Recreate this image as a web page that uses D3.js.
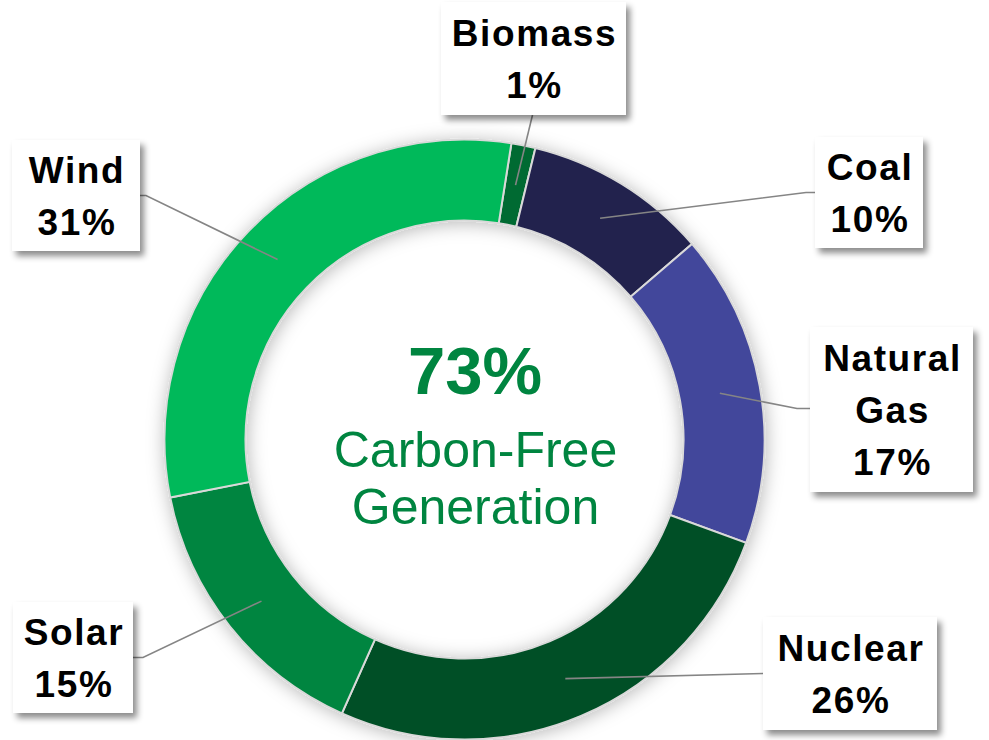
<!DOCTYPE html>
<html>
<head>
<meta charset="utf-8">
<script src="https://cdn.jsdelivr.net/npm/d3@7"></script>
<style>
  html, body { margin: 0; padding: 0; background: #fff; }
  svg { display: block; }
</style>
</head>
<body>
<svg id="chart" width="989" height="740"></svg>
<script>
// ---- data ----
const categories = ["Biomass", "Coal", "Natural Gas", "Nuclear", "Solar", "Wind"];
const values = [1.3, 9.9, 16.9, 26.1, 15.2, 30.6];
const percentLabels = ["1%", "10%", "17%", "26%", "15%", "31%"];
const nameLines = [["Biomass"], ["Coal"], ["Natural", "Gas"], ["Nuclear"], ["Solar"], ["Wind"]];
const colors = ["#006b30", "#22234e", "#43479b", "#015027", "#008540", "#00b95a"];
const centerValue = "73%";
const centerLines = ["Carbon-Free", "Generation"];

// ---- layout (label boxes: x, y, w, h, leader anchor side) ----
const boxes = [
  { x: 441, y: 2,   w: 185, h: 113, side: "bottom" },
  { x: 815, y: 137, w: 108, h: 111, side: "left", elbow: 9 },
  { x: 810, y: 327, w: 163, h: 165, side: "left", elbow: 13 },
  { x: 763, y: 617, w: 174, h: 113, side: "left", elbow: 0 },
  { x: 13,  y: 602, w: 120, h: 111, side: "right", elbow: 10 },
  { x: 12,  y: 140, w: 128, h: 111, side: "right", elbow: 6 }
];

const W = 989, H = 740;
const cx = 464.5, cy = 439.5, R = 300, r = 219;
const startDeg = 9;

const svg = d3.select("#chart");
const defs = svg.append("defs");

const ringShadow = defs.append("filter").attr("id", "ringShadow")
  .attr("x", "-20%").attr("y", "-20%").attr("width", "140%").attr("height", "140%");
ringShadow.append("feDropShadow").attr("dx", 1).attr("dy", 2)
  .attr("stdDeviation", 9).attr("flood-color", "#000").attr("flood-opacity", 0.28);

const boxShadow = defs.append("filter").attr("id", "boxShadow")
  .attr("x", "-20%").attr("y", "-20%").attr("width", "140%").attr("height", "140%");
boxShadow.append("feDropShadow").attr("dx", 4).attr("dy", 5)
  .attr("stdDeviation", 3).attr("flood-color", "#000").attr("flood-opacity", 0.45);

const data = categories.map((c, i) => ({ name: c, value: values[i], pct: percentLabels[i], lines: nameLines[i], color: colors[i], box: boxes[i] }));

const pie = d3.pie().value(d => d.value).sort(null)
  .startAngle(startDeg * Math.PI / 180)
  .endAngle(startDeg * Math.PI / 180 + 2 * Math.PI);
const arcs = pie(data);

const arc = d3.arc().innerRadius(r).outerRadius(R);
const midArc = d3.arc().innerRadius((r + R) / 2).outerRadius((r + R) / 2);

const g = svg.append("g").attr("transform", `translate(${cx},${cy})`);

g.append("g").attr("filter", "url(#ringShadow)")
  .selectAll("path").data(arcs).join("path")
  .attr("d", arc)
  .attr("fill", d => d.data.color)
  .attr("stroke", "#d9d9d9")
  .attr("stroke-width", 2);

// leader lines
const leaders = svg.append("g");
arcs.forEach(a => {
  const b = a.data.box;
  const c = midArc.centroid(a);
  const end = [cx + c[0], cy + c[1]];
  let pts;
  if (b.side === "bottom") {
    pts = [[b.x + b.w / 2 - 1, b.y + b.h], end];
  } else if (b.side === "left") {
    const y = b.y + b.h / 2 + (b.h > 150 ? -1 : 0);
    pts = [[b.x, y], [b.x - b.elbow, y], end];
  } else {
    const y = b.y + b.h / 2;
    pts = [[b.x + b.w, y], [b.x + b.w + b.elbow, y], end];
  }
  leaders.append("path")
    .attr("d", d3.line()(pts))
    .attr("fill", "none")
    .attr("stroke", "#858585")
    .attr("stroke-width", 1.6);
});

// label boxes
const lbl = svg.append("g").selectAll("g").data(arcs).join("g");
lbl.append("rect")
  .attr("x", d => d.data.box.x).attr("y", d => d.data.box.y)
  .attr("width", d => d.data.box.w).attr("height", d => d.data.box.h)
  .attr("fill", "#fff")
  .attr("filter", "url(#boxShadow)");

const lineGap = 52;
lbl.each(function(d) {
  const b = d.data.box;
  const lines = d.data.lines.concat([d.data.pct]);
  const n = lines.length;
  const midY = b.y + b.h / 2;
  d3.select(this).selectAll("text").data(lines).join("text")
    .attr("x", b.x + b.w / 2 + 1)
    .attr("y", (t, i) => midY + (i - (n - 1) / 2) * lineGap + 13)
    .attr("text-anchor", "middle")
    .attr("font-family", "'Liberation Sans', Arial, sans-serif")
    .attr("font-weight", "bold")
    .attr("font-size", 37)
    .attr("letter-spacing", 1.6)
    .attr("fill", "#000")
    .text(t => t);
});

// center text
svg.append("text")
  .attr("x", 475).attr("y", 394)
  .attr("text-anchor", "middle")
  .attr("font-family", "'Liberation Sans', Arial, sans-serif")
  .attr("font-weight", "bold")
  .attr("font-size", 67)
  .attr("fill", "#008540")
  .text(centerValue);

svg.append("g").selectAll("text").data(centerLines).join("text")
  .attr("x", 475.5)
  .attr("y", (t, i) => 467 + i * 57)
  .attr("text-anchor", "middle")
  .attr("font-family", "'Liberation Sans', Arial, sans-serif")
  .attr("font-size", 50)
  .attr("fill", "#008540")
  .text(t => t);
</script>
</body>
</html>
